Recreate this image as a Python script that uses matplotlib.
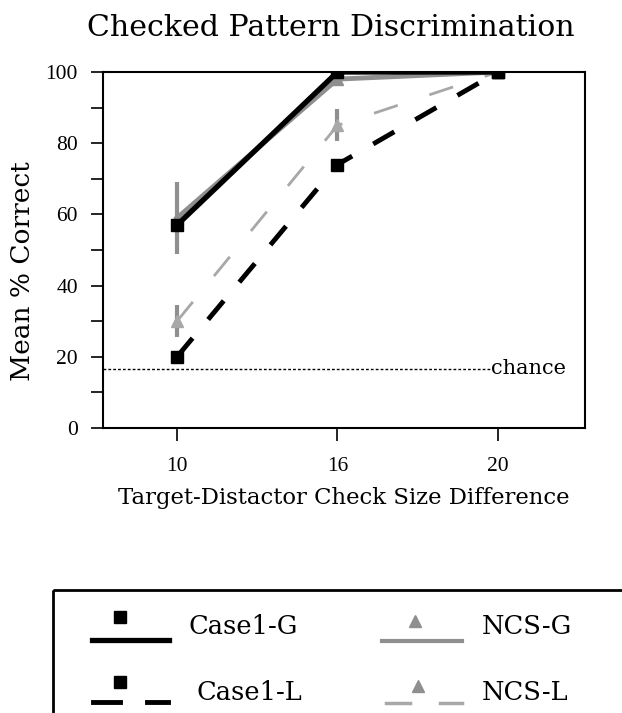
import matplotlib
matplotlib.use("Agg")
import matplotlib.pyplot as plt
from matplotlib.patches import Rectangle

# data
sizes = ["10", "16", "20"]
case1_g = [57, 100, 100]
ncs_g = [59, 98, 100]
case1_l = [20, 74, 100]
ncs_l = [30, 85, 100]
ncs_g_err = [10, 0, 0]
ncs_l_err = [4.5, 4.5, 0]
chance = 16.7

black = "#000000"
grey = "#8f8f8f"
light = "#a8a8a8"

plt.rcParams["font.family"] = ["DejaVu Serif"]

fig = plt.figure(figsize=(6.22, 7.13), dpi=100)
ax = fig.add_axes([103 / 622, 285 / 713, 482 / 622, 356 / 713])

x = list(range(len(sizes)))

# NCS (grey) under the Case1 (black) lines
ax.errorbar(x, ncs_g, yerr=ncs_g_err, color=grey, lw=3.5, marker="^", ms=8,
            elinewidth=3, capsize=0, zorder=3)
ax.errorbar(x, ncs_l, yerr=ncs_l_err, color=light, lw=2, marker="^", ms=8,
            elinewidth=3, ecolor=grey, capsize=0, dashes=(9, 12), zorder=3)
ax.plot(x, case1_g, color=black, lw=3.8, marker="s", ms=9, zorder=4)
ax.plot(x, case1_l, color=black, lw=3.5, marker="s", ms=9, dashes=(5, 5), zorder=4)

ax.axhline(chance, xmin=0, xmax=0.803, color=black, lw=1, ls=(0, (2, 1.5)))
ax.text(0.805, chance, "chance", transform=ax.get_yaxis_transform(),
        fontsize=15, va="center", ha="left")

ax.set_xlim(-0.461, 2.542)
ax.set_ylim(0, 100)
ax.set_xticks(x)
ax.set_xticklabels(sizes)
ax.set_yticks(range(0, 101, 20))
ax.set_yticks(range(10, 100, 20), minor=True)
ax.tick_params(axis="both", which="both", direction="out", length=9, width=1.2,
               labelsize=15.5, color=black)
ax.tick_params(axis="x", pad=12)
ax.tick_params(axis="y", pad=9)
for lab in ax.get_xticklabels() + ax.get_yticklabels():
    lab.set_family("Liberation Serif")
for sp in ax.spines.values():
    sp.set_linewidth(1.5)

ax.set_ylabel("Mean % Correct", fontsize=19, va="center")
ax.yaxis.set_label_coords(-0.168, 0.44)
ax.set_xlabel("Target-Distactor Check Size Difference", fontsize=16.4, labelpad=8)
fig.text(331 / 622, 1 - 28 / 713, "Checked Pattern Discrimination", fontsize=21.6,
         ha="center", va="center")

# hand drawn legend, as in the original (markers sit above the line)
lg = fig.add_axes([0, 0, 1, 1], zorder=-1)
lg.set_xlim(0, 622)
lg.set_ylim(713, 0)
lg.axis("off")
lg.add_patch(Rectangle((53, 590), 700, 200, fill=False, lw=2, ec=black))
lg.plot([92, 169], [640, 640], color=black, lw=3.8)
lg.plot([120], [617], color=black, marker="s", ms=9)
lg.plot([93, 120], [702, 702], color=black, lw=3.5)
lg.plot([147, 168], [702, 702], color=black, lw=3.5)
lg.plot([120], [682], color=black, marker="s", ms=9)
lg.plot([382, 462], [641, 641], color=grey, lw=3)
lg.plot([415], [621], color=grey, marker="^", ms=8)
lg.plot([386, 410], [703, 703], color=light, lw=2.5)
lg.plot([440, 462], [703, 703], color=light, lw=2.5)
lg.plot([418], [686], color=grey, marker="^", ms=8)
lg.text(189, 626, "Case1-G", fontsize=18.5, va="center")
lg.text(196, 692, "Case1-L", fontsize=18.5, va="center")
lg.text(482, 626, "NCS-G", fontsize=18.5, va="center")
lg.text(482, 692, "NCS-L", fontsize=18.5, va="center")

fig.savefig("out.png", dpi=100)
